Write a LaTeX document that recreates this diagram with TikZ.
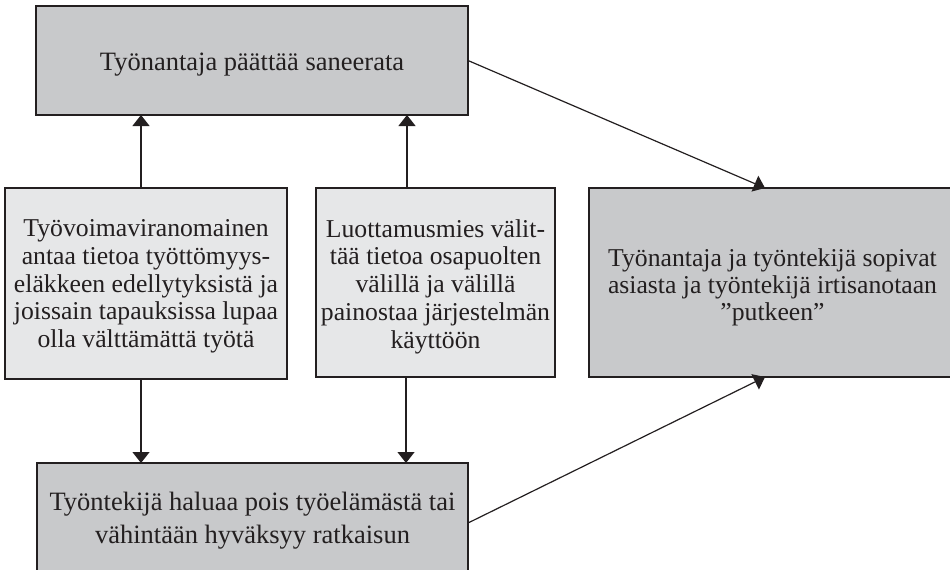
\documentclass[tikz,border=0pt]{standalone}
\usepackage{fontspec}
\setmainfont{Liberation Serif}
\usetikzlibrary{arrows.meta}
\definecolor{ink}{RGB}{35,31,32}
\definecolor{darkfill}{RGB}{200,201,203}
\definecolor{lightfill}{RGB}{230,231,232}
\newcommand{\tightlines}{\lineskiplimit=-50pt\relax}
\tikzset{
  boxbase/.style={draw=ink, line width=1.3pt, rectangle, inner sep=0pt, outer sep=0pt},
  darkbox/.style={boxbase, fill=darkfill},
  lightbox/.style={boxbase, fill=lightfill},
  boxtext/.style={inner sep=0pt, outer sep=0pt, align=center, text=ink},
  conn/.style={draw=ink, line width=1.2pt, -{Triangle[length=11pt,width=17pt]}}
}
\begin{document}
\begin{tikzpicture}[x=1pt,y=-1pt]
\useasboundingbox (0,0) rectangle (950,570);
\clip (0,0) rectangle (950,570);
% boxes
\node[darkbox, minimum width=432pt, minimum height=109pt] (top) at (252,60.5) {};
\node[lightbox, minimum width=282pt, minimum height=191pt] (left) at (146,283.5) {};
\node[lightbox, minimum width=239pt, minimum height=189pt] (mid) at (435.5,282.5) {};
\node[darkbox, minimum width=367pt, minimum height=189pt] (right) at (772.5,282.5) {};
\node[darkbox, minimum width=431pt, minimum height=120pt] (bottom) at (252.5,523) {};
% texts
\node[boxtext, font=\fontsize{26.5}{28}\selectfont\tightlines]
  (toptext) at ([yshift=-4pt]top.center) {Työnantaja päättää saneerata};
\node[boxtext, font=\fontsize{25.7}{27.75}\selectfont\tightlines]
  (lefttext) at ([yshift=-3pt]left.center)
  {Työvoimaviranomainen\\antaa tietoa työttömyys-\\eläkkeen edellytyksistä ja\\joissain tapauksissa lupaa\\olla välttämättä työtä};
\node[boxtext, font=\fontsize{25.7}{27.75}\selectfont\tightlines]
  (midtext) at ([yshift=-4pt]mid.center)
  {Luottamusmies välit-\\tää tietoa osapuolten\\välillä ja välillä\\painostaa järjestelmän\\käyttöön};
\node[boxtext, font=\fontsize{25.7}{26.7}\selectfont\tightlines]
  (righttext) at ([yshift=-5pt]right.center)
  {Työnantaja ja työntekijä sopivat\\asiasta ja työntekijä irtisanotaan\\”putkeen”};
\node[boxtext, font=\fontsize{26.5}{33}\selectfont\tightlines]
  (bottomtext) at ([yshift=2.5pt]bottom.center)
  {Työntekijä haluaa pois työelämästä tai\\vähintään hyväksyy ratkaisun};
% connectors
\draw[conn] ([xshift=-5pt]left.north) -- ([xshift=-5pt]left.north |- top.south);
\draw[conn] ([xshift=-28.5pt]mid.north) -- ([xshift=-28.5pt]mid.north |- top.south);
\draw[conn] ([xshift=-5pt]left.south) -- ([xshift=-5pt]left.south |- bottom.north);
\draw[conn] ([xshift=-29.5pt]mid.south) -- ([xshift=-29.5pt]mid.south |- bottom.north);
\draw[conn] (top.east) -- ([xshift=-7.5pt]right.north);
\draw[conn] (bottom.east) -- ([xshift=-7.5pt]right.south);
\end{tikzpicture}
\end{document}
